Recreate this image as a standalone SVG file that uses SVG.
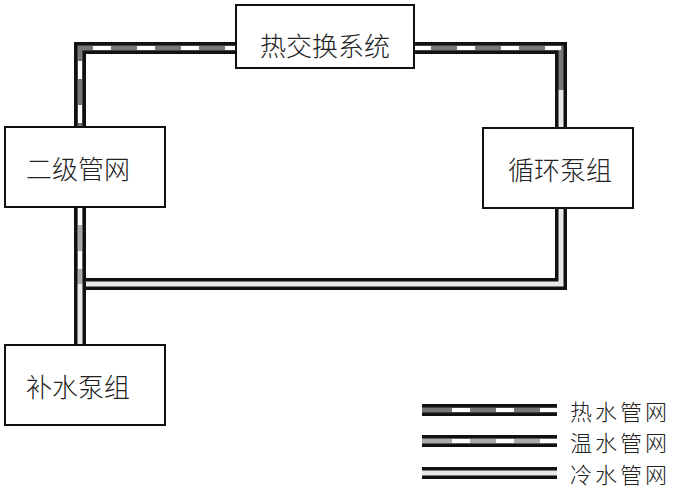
<svg xmlns="http://www.w3.org/2000/svg" width="688" height="498" viewBox="0 0 688 498">
<style>
.o{fill:none;stroke:#111;stroke-width:12;stroke-linejoin:miter}
.h{fill:none;stroke:#777;stroke-width:5}
.w{fill:none;stroke:#aaa;stroke-width:5}
.c{fill:none;stroke:#e8e8e8;stroke-width:5}
.d{fill:none;stroke:#fff;stroke-width:4;stroke-dasharray:18 26}
.b{fill:#fff;stroke:#111;stroke-width:2}
text{font-family:"Noto Sans CJK SC",sans-serif;font-size:26px;font-weight:300;fill:#222;text-anchor:middle;dominant-baseline:central}
.l{text-anchor:start;font-size:22px;letter-spacing:3px}
</style>
<rect width="688" height="498" fill="#fff"/>
<g id="connectors">
<path class="o" d="M80,167 V48 H561 V284 H80 M80,200 V385"/>
<path class="h" d="M80,167 V48 H325"/><path class="d" d="M80,167 V48 H325"/>
<path class="h" d="M325,48 H561 V90"/><path class="d" d="M325,48 H561"/>
<path class="c" d="M561,90 V284 H86"/>
<path class="w" d="M80,207 V284"/><path class="d" d="M80,207 V284"/>
<path class="c" d="M80,284 V385"/>
</g>
<g id="n1"><rect class="b" x="236" y="5" width="178" height="63"/><text x="325" y="44">热交换系统</text></g>
<g id="n2"><rect class="b" x="5" y="127" width="160" height="80"/><text x="78" y="167">二级管网</text></g>
<g id="n3"><rect class="b" x="483" y="128" width="150" height="80"/><text x="560" y="168">循环泵组</text></g>
<g id="n4"><rect class="b" x="5" y="345" width="160" height="80"/><text x="78" y="385">补水泵组</text></g>
<g id="legend">
<path class="o" d="M422,410 H557 M422,441 H557 M422,473 H557"/>
<path class="h" d="M422,410 H557"/><path class="d" d="M452,410 H557" stroke-dasharray="18 32"/>
<path class="w" d="M422,441 H557"/><path class="d" d="M452,441 H557" stroke-dasharray="18 32"/>
<path class="c" d="M422,473 H557"/>
<text class="l" x="570" y="410">热水管网</text>
<text class="l" x="570" y="441">温水管网</text>
<text class="l" x="570" y="473">冷水管网</text>
</g>
</svg>
